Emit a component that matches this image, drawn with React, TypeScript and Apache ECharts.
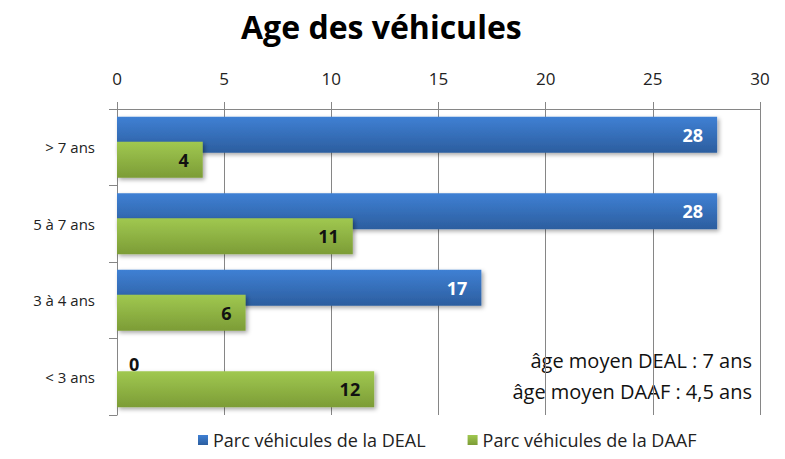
import React, { useEffect, useRef } from "react";
import * as echarts from "echarts";

const categories = ["> 7 ans", "5 à 7 ans", "3 à 4 ans", "< 3 ans"];
const dealValues = [28, 28, 17, 0];
const daafValues = [4, 11, 6, 12];
const xTicks = { min: 0, max: 30, interval: 5 };
const seriesNames = ["Parc véhicules de la DEAL", "Parc véhicules de la DAAF"];
const notes = ["âge moyen DEAL : 7 ans", "âge moyen DAAF : 4,5 ans"];
const title = "Age des véhicules";

const FONT = "'Open Sans', 'Liberation Sans', sans-serif";

export default function App() {
  const ref = useRef<HTMLDivElement>(null);
  useEffect(() => {
    if (!ref.current) return;
    const chart = echarts.init(ref.current, undefined, { renderer: "svg" });
    const blue = new echarts.graphic.LinearGradient(0, 0, 0, 1, [
      { offset: 0, color: "#3f80d4" },
      { offset: 1, color: "#2c5e9f" },
    ]);
    const green = new echarts.graphic.LinearGradient(0, 0, 0, 1, [
      { offset: 0, color: "#a0c850" },
      { offset: 1, color: "#7c9c36" },
    ]);
    const shadow = {
      shadowColor: "rgba(0,0,0,0.35)",
      shadowBlur: 4,
      shadowOffsetX: 2,
      shadowOffsetY: 2,
    };
    chart.setOption({
      animation: false,
      backgroundColor: "#ffffff",
      color: ["#3a76c4", "#8cb043"],
      title: {
        text: title,
        left: 236,
        top: 5,
        textStyle: { fontFamily: FONT, fontWeight: "bold", fontSize: 32, color: "#000" },
      },
      grid: { left: 117, right: 25, top: 109, bottom: 44, containLabel: false },
      xAxis: {
        type: "value",
        position: "top",
        min: xTicks.min,
        max: xTicks.max,
        interval: xTicks.interval,
        axisLine: { show: true, lineStyle: { color: "#868686" } },
        axisTick: { show: true, length: 7, lineStyle: { color: "#868686" } },
        splitLine: { show: true, lineStyle: { color: "#868686" } },
        axisLabel: { fontFamily: FONT, fontSize: 17, color: "#222", margin: 22 },
      },
      yAxis: {
        type: "category",
        inverse: true,
        data: categories,
        axisLine: { show: true, lineStyle: { color: "#868686" } },
        axisTick: { show: true, length: 8, lineStyle: { color: "#868686" } },
        axisLabel: { fontFamily: FONT, fontSize: 15, color: "#222", margin: 22 },
      },
      legend: {
        bottom: 5,
        left: 193,
        icon: "rect",
        itemWidth: 10,
        itemHeight: 10,
        itemGap: 42,
        textStyle: { fontFamily: FONT, fontSize: 18, color: "#222" },
        data: seriesNames,
      },
      series: [
        {
          name: seriesNames[0],
          type: "bar",
          data: dealValues.map((v) =>
            v === 0
              ? { value: v, label: { position: "right", color: "#111", distance: 12 } }
              : v
          ),
          barWidth: 36,
          barGap: "-30%",
          itemStyle: { color: blue, ...shadow },
          label: {
            show: true,
            position: "insideRight",
            distance: 14,
            color: "#fff",
            fontFamily: FONT,
            fontWeight: "bold",
            fontSize: 18,
          },
        },
        {
          name: seriesNames[1],
          type: "bar",
          data: daafValues,
          barWidth: 36,
          barGap: "-30%",
          itemStyle: { color: green, ...shadow },
          label: {
            show: true,
            position: "insideRight",
            distance: 14,
            color: "#111",
            fontFamily: FONT,
            fontWeight: "bold",
            fontSize: 18,
          },
        },
      ],
      graphic: [
        {
          type: "text",
          right: 33,
          top: 350,
          style: { text: notes[0], font: `20px ${FONT}`, fill: "#111" },
        },
        {
          type: "text",
          right: 33,
          top: 381,
          style: { text: notes[1], font: `20px ${FONT}`, fill: "#111" },
        },
      ],
    });
    return () => chart.dispose();
  }, []);
  return <div ref={ref} style={{ width: 785, height: 459, margin: -8 }} />;
}
